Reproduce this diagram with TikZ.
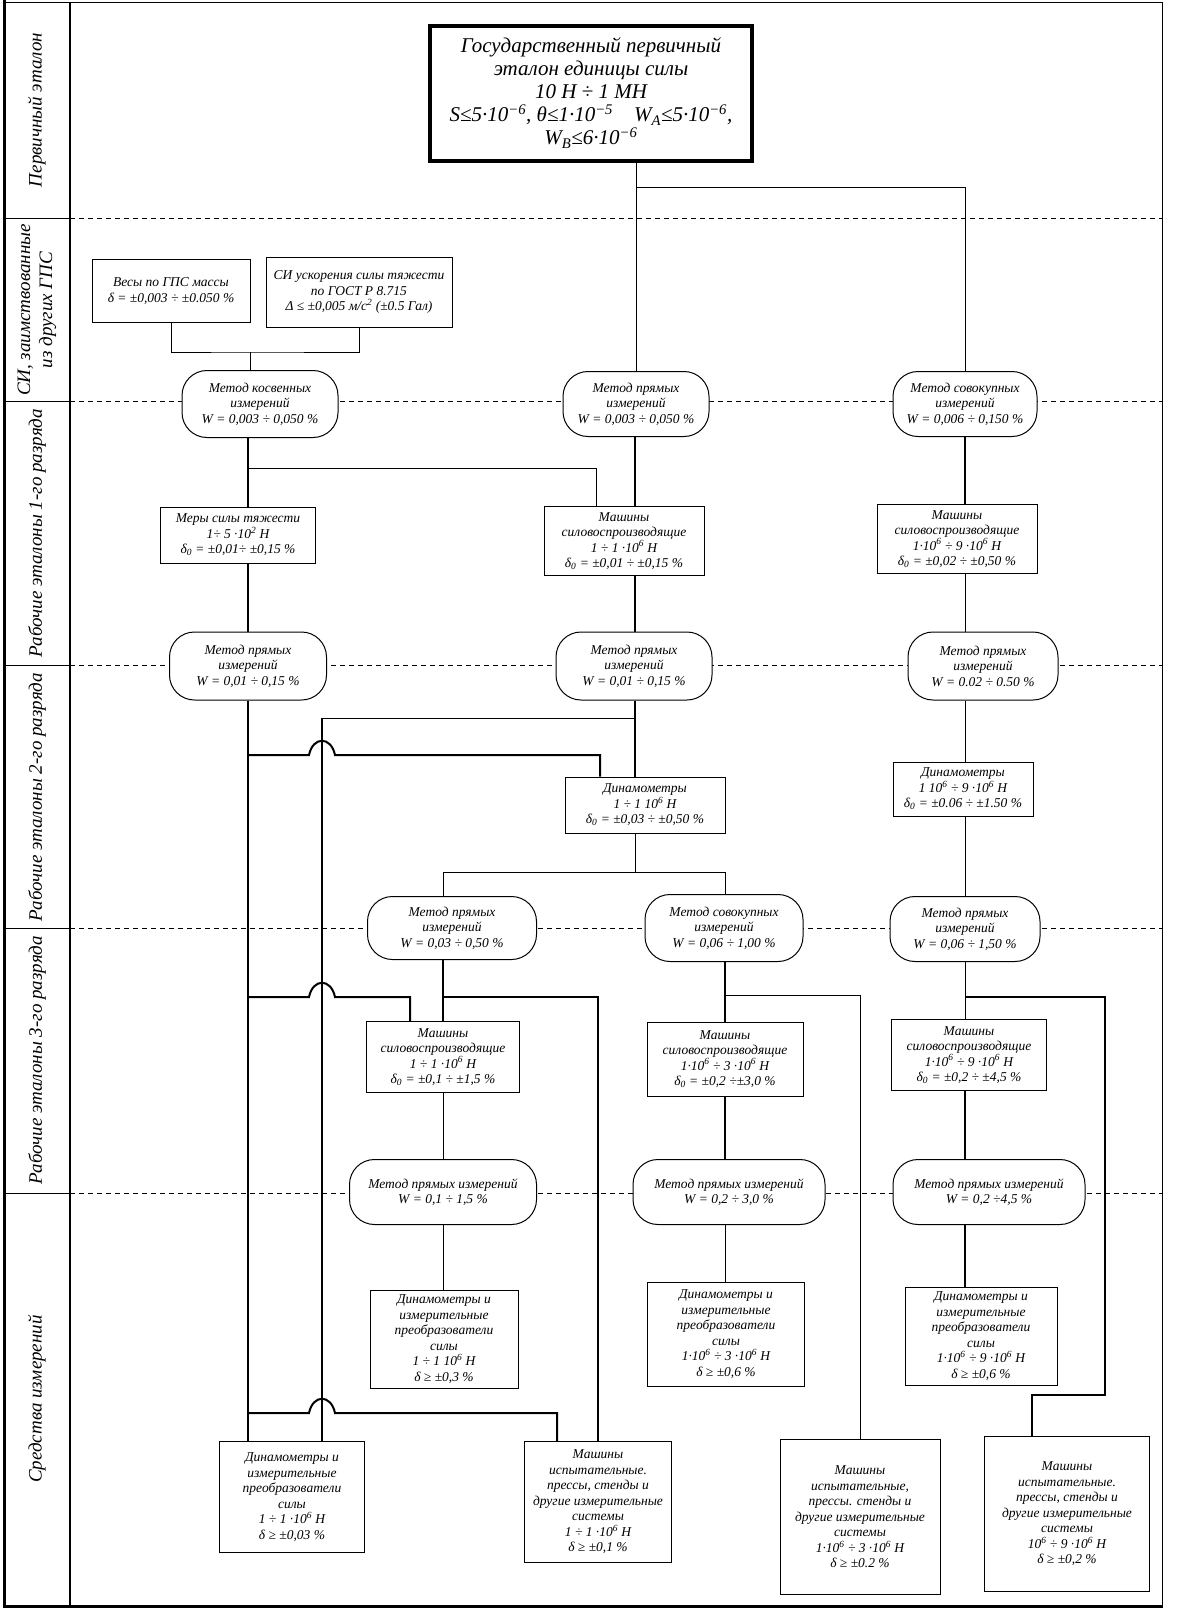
\documentclass[tikz,border=0pt]{standalone}
\usepackage{fontspec}
\setmainfont{Liberation Serif}
\begin{document}
\begin{tikzpicture}[x=1pt,y=-1pt,
    box/.style={draw,line width=1pt,fill=white,align=center,inner sep=2pt,
      font=\fontsize{13.5}{15.5}\selectfont\itshape},
    meth/.style={box,rounded corners=25pt},
    lbl/.style={rotate=90,align=center,font=\fontsize{19}{22}\selectfont\itshape},
    thk/.style={line width=2pt},
    thn/.style={line width=1pt},
    lvl/.style={line width=1pt,dash pattern=on 5pt off 4pt}]
  \useasboundingbox (0,0) rectangle (1197,1610);
  % frame and levels
  \draw[thn] (4,2) -- (1162,2) -- (1162,1605);
  \draw[line width=3pt] (4,0) -- (4,1606) -- (1163,1606);
  \draw[line width=1.5pt] (70,2) -- (70,1605);
  \foreach \y in {218,401,665,928,1193} {
    \draw[thn] (4,\y) -- (70,\y);
    \draw[lvl] (70,\y) -- (1162,\y);
  }
  \node[lbl] (L0) at (37,110) {Первичный эталон};
  \node[lbl] (L1) at (37,310) {СИ, заимствованные\\из других ГПС};
  \node[lbl] (L2) at (37,533) {Рабочие эталоны 1-го разряда};
  \node[lbl] (L3) at (37,797) {Рабочие эталоны 2-го разряда};
  \node[lbl] (L4) at (37,1060) {Рабочие эталоны 3-го разряда};
  \node[lbl] (L5) at (37,1399) {Средства измерений};
  % primary standard
  \node[box,line width=4pt,minimum width=322pt,minimum height=135pt,
    font=\fontsize{21}{23}\selectfont\itshape] (T) at (591,93)
    {Государственный первичный\\эталон единицы  силы\\10 Н ÷ 1 МН\\
     S≤5·10\textsuperscript{−6}, θ≤1·10\textsuperscript{−5}\quad W\textsubscript{A}≤5·10\textsuperscript{−6},\\
     W\textsubscript{B}≤6·10\textsuperscript{−6}};
  \node[box,minimum width=158pt,minimum height=63pt] (Vesy) at (171,291)
    {Весы по ГПС массы\\δ = ±0,003 ÷ ±0.050 \%};
  \node[box,minimum width=186pt,minimum height=70pt] (SI) at (359,292)
    {СИ ускорения силы тяжести\\по ГОСТ Р 8.715\\Δ ≤ ±0,005 м/с\textsuperscript{2} (±0.5 Гал)};
  % 1st grade
  \node[meth,minimum width=156pt,minimum height=67pt] (M1) at (260,404)
    {Метод косвенных\\измерений\\W = 0,003 ÷ 0,050 \%};
  \node[meth,minimum width=146pt,minimum height=65pt] (M2) at (636,404)
    {Метод прямых\\измерений\\W = 0,003 ÷ 0,050 \%};
  \node[meth,minimum width=144pt,minimum height=65pt] (M3) at (965,404)
    {Метод совокупных\\измерений\\W = 0,006 ÷ 0,150 \%};
  \node[box,minimum width=155pt,minimum height=56pt] (B1) at (238,535)
    {Меры силы тяжести\\1÷ 5 ·10\textsuperscript{2} Н\\δ\textsubscript{0} = ±0,01÷ ±0,15 \%};
  \node[box,minimum width=160pt,minimum height=69pt] (B2) at (624,541)
    {Машины\\силовоспроизводящие\\1 ÷ 1 ·10\textsuperscript{6} Н\\δ\textsubscript{0} = ±0,01 ÷ ±0,15 \%};
  \node[box,minimum width=160pt,minimum height=69pt] (B3) at (957,539)
    {Машины\\силовоспроизводящие\\1·10\textsuperscript{6} ÷ 9 ·10\textsuperscript{6} Н\\δ\textsubscript{0} = ±0,02 ÷ ±0,50 \%};
  % 2nd grade
  \node[meth,minimum width=157pt,minimum height=68pt] (M4) at (248,666)
    {Метод прямых\\измерений\\W = 0,01 ÷ 0,15 \%};
  \node[meth,minimum width=156pt,minimum height=68pt] (M5) at (634,666)
    {Метод прямых\\измерений\\W = 0,01 ÷ 0,15 \%};
  \node[meth,minimum width=150pt,minimum height=68pt] (M6) at (983,666)
    {Метод прямых\\измерений\\W = 0.02 ÷ 0.50 \%};
  \node[box,minimum width=160pt,minimum height=56pt] (D2) at (645,805)
    {Динамометры\\1 ÷ 1  10\textsuperscript{6} Н\\δ\textsubscript{0} = ±0,03 ÷ ±0,50 \%};
  \node[box,minimum width=140pt,minimum height=54pt] (D3) at (963,789)
    {Динамометры\\1 10\textsuperscript{6} ÷ 9 ·10\textsuperscript{6} Н\\δ\textsubscript{0} = ±0.06 ÷ ±1.50 \%};
  % 3rd grade
  \node[meth,minimum width=169pt,minimum height=63pt] (M7) at (452,928)
    {Метод прямых\\измерений\\W = 0,03 ÷ 0,50 \%};
  \node[meth,minimum width=158pt,minimum height=67pt] (M8) at (724,928)
    {Метод совокупных\\измерений\\W = 0,06 ÷ 1,00 \%};
  \node[meth,minimum width=150pt,minimum height=65pt] (M9) at (965,929)
    {Метод прямых\\измерений\\W = 0,06 ÷ 1,50 \%};
  \node[box,minimum width=153pt,minimum height=71pt] (B4) at (443,1057)
    {Машины\\силовоспроизводящие\\1 ÷ 1 ·10\textsuperscript{6} Н\\δ\textsubscript{0} = ±0,1 ÷ ±1,5 \%};
  \node[box,minimum width=156pt,minimum height=74pt] (B5) at (725,1059)
    {Машины\\силовоспроизводящие\\1·10\textsuperscript{6} ÷ 3 ·10\textsuperscript{6} Н\\δ\textsubscript{0} = ±0,2 ÷±3,0 \%};
  \node[box,minimum width=155pt,minimum height=71pt] (B6) at (969,1055)
    {Машины\\силовоспроизводящие\\1·10\textsuperscript{6} ÷ 9 ·10\textsuperscript{6} Н\\δ\textsubscript{0} = ±0,2 ÷ ±4,5 \%};
  % measuring instruments
  \node[meth,minimum width=187pt,minimum height=65pt] (M10) at (443,1192)
    {Метод прямых измерений\\W = 0,1 ÷ 1,5 \%};
  \node[meth,minimum width=192pt,minimum height=65pt] (M11) at (729,1192)
    {Метод прямых измерений\\W = 0,2 ÷ 3,0 \%};
  \node[meth,minimum width=192pt,minimum height=65pt] (M12) at (989,1192)
    {Метод прямых измерений\\W = 0,2 ÷4,5 \%};
  \node[box,minimum width=148pt,minimum height=98pt] (B7) at (444,1339)
    {Динамометры и\\измерительные\\преобразователи\\силы\\1 ÷ 1  10\textsuperscript{6} Н\\δ ≥ ±0,3 \%};
  \node[box,minimum width=157pt,minimum height=104pt] (B8) at (726,1334)
    {Динамометры и\\измерительные\\преобразователи\\силы\\1·10\textsuperscript{6} ÷ 3 ·10\textsuperscript{6} Н\\δ ≥ ±0,6 \%};
  \node[box,minimum width=152pt,minimum height=98pt] (B9) at (981,1336)
    {Динамометры и\\измерительные\\преобразователи\\силы\\1·10\textsuperscript{6} ÷ 9 ·10\textsuperscript{6} Н\\δ ≥ ±0,6 \%};
  \node[box,minimum width=145pt,minimum height=111pt] (E1) at (292,1497)
    {Динамометры и\\измерительные\\преобразователи\\силы\\1 ÷ 1 ·10\textsuperscript{6} Н\\δ ≥ ±0,03 \%};
  \node[box,minimum width=147pt,minimum height=121pt] (E2) at (598,1502)
    {Машины\\испытательные.\\прессы, стенды и\\другие измерительные\\системы\\1 ÷ 1 ·10\textsuperscript{6} Н\\δ ≥ ±0,1 \%};
  \node[box,minimum width=160pt,minimum height=155pt] (E3) at (860,1517)
    {Машины\\испытательные,\\прессы. стенды и\\другие измерительные\\системы\\1·10\textsuperscript{6} ÷ 3 ·10\textsuperscript{6} Н\\δ ≥ ±0.2 \%};
  \node[box,minimum width=165pt,minimum height=155pt] (E4) at (1067,1514)
    {Машины\\испытательные.\\прессы, стенды и\\другие измерительные\\системы\\10\textsuperscript{6} ÷ 9 ·10\textsuperscript{6} Н\\δ ≥ ±0,2 \%};
  % junctions
  \coordinate (jt) at (636,187);
  \coordinate (jv) at (250,352);
  \coordinate (j1) at (248,468);
  \coordinate (j2) at (322,718);
  \coordinate (j3) at (248,755);
  \coordinate (j4) at (635,872);
  \coordinate (j5) at (248,997);
  \coordinate (j6) at (443,997);
  \coordinate (j7) at (725,995);
  \coordinate (j8) at (965,997);
  \coordinate (j9) at (1105,1395);
  \coordinate (j10) at (248,1413);
  % connectors
  \draw[thn] (T.south -| jt) -- (M2.north -| jt);
  \draw[thn] (jt) -| (M3.north);
  \draw[thn] (Vesy.south) |- (jv) -| (SI.south);
  \draw[thn] (jv) -- (M1.north -| jv);
  \draw[thk] (M1.south -| j1) -- (B1.north -| j1);
  \draw[thn] (j1) -| ([xshift=-28pt]B2.north);
  \draw[thk] (M2.south -| j4) -- (B2.north -| j4);
  \draw[thk] (M3.south) -- (B3.north -| M3);
  \draw[thk] (B1.south -| j1) -- (M4.north -| j1);
  \draw[thk] (B2.south -| j4) -- (M5.north -| j4);
  \draw[thn] (B3.south -| M3) -- (M6.north -| M3);
  \draw[thk] (M4.south -| j1) -- (E1.north -| j1);
  \draw[thn] (j2 -| j4) -- (j2);
  \draw[thk] (j2) -- (E1.north -| j2);
  \draw[thk] (j3) -- (309,755) .. controls (313,736) and (331,736) .. (335,755)
    -| ([xshift=-45pt]D2.north);
  \draw[thk] (M5.south -| j4) -- (D2.north -| j4);
  \draw[thn] (D2.south -| j4) -- (j4);
  \draw[thn] (M7.north -| j6) |- (j4) -| (M8.north -| j7);
  \draw[thn] (M6.south -| M3) -- (D3.north -| M3);
  \draw[thn] (D3.south -| M3) -- (M9.north -| M3);
  \draw[thk] (M7.south -| j6) -- (B4.north -| j6);
  \draw[thk] (j5) -- (309,997) .. controls (313,978) and (331,978) .. (335,997)
    -| ([xshift=-33pt]B4.north);
  \draw[thk] (j6) -| (E2.north);
  \draw[thk] (j10) -- (309,1413) .. controls (313,1394) and (331,1394) .. (335,1413)
    -| ([xshift=-41pt]E2.north);
  \draw[thk] (M8.south -| j7) -- (B5.north -| j7);
  \draw[thn] (j7) -| (E3.north);
  \draw[thn] (M9.south -| j8) -- (B6.north -| j8);
  \draw[thk] (j8) -| (j9) -| ([xshift=-35pt]E4.north);
  \draw[thn] (B4.south -| j6) -- (M10.north -| j6);
  \draw[thn] (M10.south -| j6) -- (B7.north -| j6);
  \draw[thk] (B5.south -| j7) -- (M11.north -| j7);
  \draw[thn] (M11.south -| j7) -- (B8.north -| j7);
  \draw[thk] (B6.south -| j8) -- (M12.north -| j8);
  \draw[thk] (M12.south -| j8) -- (B9.north -| j8);
\end{tikzpicture}
\end{document}
